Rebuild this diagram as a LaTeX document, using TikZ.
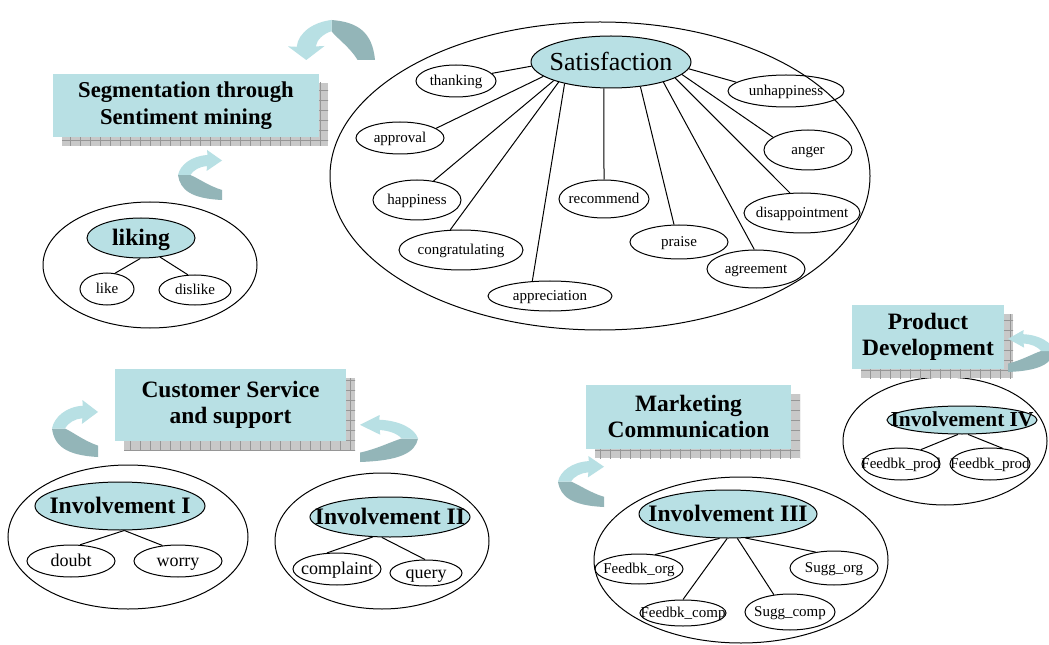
\documentclass[tikz,border=0pt]{standalone}
\usepackage{fontspec}
\setmainfont{Liberation Serif}
\usetikzlibrary{shapes.geometric}
\definecolor{lb}{RGB}{184,224,228}
\definecolor{db}{RGB}{147,181,184}
\definecolor{shf}{RGB}{200,200,200}
\definecolor{shl}{RGB}{150,150,150}
\newcommand{\zw}[1]{\makebox[0pt]{\vphantom{I}\smash{#1}}}
\newcommand{\ribbon}[1]{%
\begin{scope}[#1]
\fill[db] (0,0.5) .. controls (0.05,0.8) and (0.3,0.97) .. (1,1) -- (1,0.8)
  .. controls (0.7,0.72) and (0.45,0.56) .. (0.28,0.5) -- cycle;
\fill[lb] (0,0.5) .. controls (0.05,0.3) and (0.3,0.12) .. (0.67,0.1) -- (0.66,0) -- (1,0.21)
  -- (0.65,0.42) -- (0.66,0.32) .. controls (0.5,0.33) and (0.35,0.4) .. (0.28,0.5) -- cycle;
\end{scope}}
\newcommand{\boxshadow}[4]{%
\begin{scope}
\clip (#1+9,#2+9) rectangle (#3+9,#4+9);
\fill[shf] (#1+9,#2+9) rectangle (#3+9,#4+9);
\draw[shl, line width=0.4pt, step=7.5pt] (#1,#2) grid (#3+12,#4+12);
\end{scope}}
\begin{document}
\begin{tikzpicture}[x=0.75pt, y=-0.75pt, line width=0.75pt,
  ell/.style 2 args={ellipse, draw, inner sep=0pt, minimum width=#1*1.5pt, minimum height=#2*1.5pt},
  leaf/.style={font=\fontsize{11.25}{13}\selectfont},
  leafb/.style={font=\fontsize{13.5}{15}\selectfont},
  hub/.style={fill=lb, font=\bfseries\fontsize{17.7}{20}\selectfont},
  tbox/.style={fill=lb, inner sep=0pt, align=center, font=\bfseries\fontsize{17.6}{19.5}\selectfont}]
\clip (0,0) rectangle (1049,645);
\fill[white] (0,0) rectangle (1049,645);

% ---------- Satisfaction group ----------
\node[ell={270}{154}] (satc) at (600,176) {};
\node[ell={80}{26}, fill=lb, font=\fontsize{19.5}{22}\selectfont] (sat) at (611,62) {\zw{Satisfaction}};
\node[ell={40}{16}, leaf] (thk) at (456,81) {\zw{thanking}};
\node[ell={58}{16}, leaf] (unh) at (786,91) {\zw{unhappiness}};
\node[ell={44}{16}, leaf] (apr) at (400,138) {\zw{approval}};
\node[ell={44}{20}, leaf] (ang) at (808,150) {\zw{anger}};
\node[ell={44}{20}, leaf] (hap) at (417,200) {\zw{happiness}};
\node[ell={45}{19}, leaf] (rec) at (604,199) {\zw{recommend}};
\node[ell={58}{20}, leaf] (dis) at (802,213) {\zw{disappointment}};
\node[ell={62}{20}, leaf] (con) at (461,250) {\zw{congratulating}};
\node[ell={49}{17}, leaf] (pra) at (679,242) {\zw{praise}};
\node[ell={49}{19}, leaf] (agr) at (756,269) {\zw{agreement}};
\node[ell={62}{15}, leaf] (app) at (550,296) {\zw{appreciation}};
\draw (sat.183) -- (thk.12);
\draw (sat.192) -- (apr.15);
\draw (sat.198) -- (hap.49);
\draw (sat.201) -- (con.118);
\draw (sat.205) -- (app.140);
\draw (sat.255) -- (rec.90);
\draw (sat.320) -- (pra.106);
\draw (sat.339) -- (agr.95);
\draw (sat.346) -- (dis.121);
\draw (sat.350) -- (ang.160);
\draw (sat.355) -- (unh.170);

% ---------- liking group ----------
\node[ell={107}{63}] (likc) at (150,265) {};
\node[ell={54}{20}, hub] (liking) at (141,238) {\zw{liking}};
\node[ell={27}{16}, leaf] (like) at (107,289) {\zw{like}};
\node[ell={36}{15}, leaf] (dislike) at (195,290) {\zw{dislike}};
\draw (liking.268) -- (like.63);
\draw (liking.315) -- (dislike.115);

% ---------- Involvement I ----------
\node[ell={120}{72}] (i1c) at (128,537) {};
\node[ell={85}{24}, hub] (i1) at (120,506) {\zw{Involvement I}};
\node[ell={44}{16}, leafb] (doubt) at (71,561) {\zw{doubt}};
\node[ell={44}{16}, leafb] (worry) at (178,561) {\zw{worry}};
\draw (i1.280) -- (doubt.61);
\draw (i1.280) -- (worry.135);

% ---------- Involvement II ----------
\node[ell={107}{68}] (i2c) at (382,541) {};
\node[ell={80}{20}, hub] (i2) at (390,517) {\zw{Involvement II}};
\node[ell={44}{16}, leafb] (cmp) at (337,569) {\zw{complaint}};
\node[ell={36}{13}, leafb] (qry) at (426,573) {\zw{query}};
\draw (i2.229) -- (cmp.122);
\draw (i2.248) -- (qry.94);

% ---------- Involvement III ----------
\node[ell={147}{83}] (i3c) at (741,560) {};
\node[ell={89}{24}, hub] (i3) at (728,514) {\zw{Involvement III}};
\node[ell={44}{15}, leaf] (fo) at (639,569) {\zw{Feedbk\_org}};
\node[ell={43}{13}, leaf] (fc) at (683,613) {\zw{Feedbk\_comp}};
\node[ell={45}{18}, leaf] (sc) at (790,612) {\zw{Sugg\_comp}};
\node[ell={44}{17}, leaf] (so) at (834,568) {\zw{Sugg\_org}};
\draw (i3.251) -- (fo.42);
\draw (i3.268) -- (fc.90);
\draw (i3.291) -- (sc.133);
\draw (i3.306) -- (so.139);

% ---------- Involvement IV ----------
\node[ell={102}{64}] (i4c) at (945,441) {};
\node[ell={75}{14}, hub, font=\bfseries\fontsize{16}{18}\selectfont] (i4) at (962,420) {\zw{Involvement IV}};
\node[ell={39}{16}, leaf] (fp1) at (901,464) {\zw{Feedbk\_prod}};
\node[ell={40}{16}, leaf] (fp2) at (990,464) {\zw{Feedbk\_prod}};
\draw (i4.254) -- (fp1.36);
\draw (i4.293) -- (fp2.51);

% ---------- title boxes ----------
\boxshadow{53}{74}{319}{137}
\node[tbox, font=\bfseries\fontsize{17}{20}\selectfont, minimum width=199.5pt, minimum height=47.25pt] (seg) at (186,105.5) {Segmentation through\\Sentiment mining};
\boxshadow{115}{369}{346}{441}
\node[tbox, minimum width=173.25pt, minimum height=54pt] (cs) at (230.5,405) {Customer Service\\and support};
\boxshadow{586}{385}{791}{449}
\node[tbox, minimum width=153.75pt, minimum height=48pt] (mc) at (688.5,417) {Marketing\\Communication};
\boxshadow{852}{305}{1004}{369}
\node[tbox, minimum width=114pt, minimum height=48pt] (pd) at (928,337) {Product\\Development};

% ---------- curved ribbon arrows ----------
\ribbon{shift={(288,20)}, xscale=87, yscale=40, cm={0,-1,-1,0,(0,0)}}
\ribbon{shift={(178,150)}, xscale=44, yscale=50}
\ribbon{shift={(52,400)}, xscale=46, yscale=57}
\ribbon{shift={(418,415)}, xscale=-58, yscale=47}
\ribbon{shift={(558,456)}, xscale=46, yscale=51}
\ribbon{shift={(1054,330)}, xscale=-46, yscale=42}
\end{tikzpicture}
\end{document}
